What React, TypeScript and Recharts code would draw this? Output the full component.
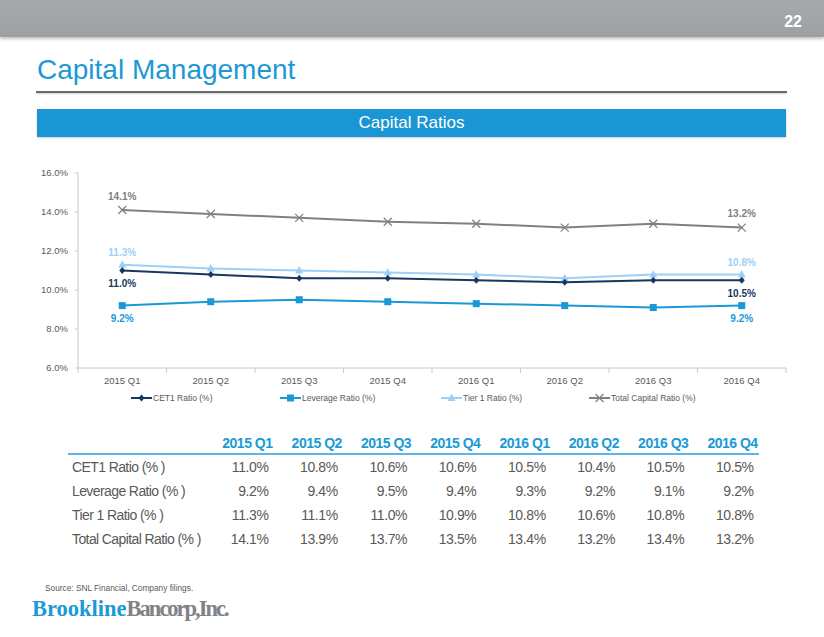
import React from 'react';
import { LineChart, Line, XAxis, YAxis } from 'recharts';

const quarters = ['2015 Q1', '2015 Q2', '2015 Q3', '2015 Q4', '2016 Q1', '2016 Q2', '2016 Q3', '2016 Q4'];
const cet1 = [11.0, 10.8, 10.6, 10.6, 10.5, 10.4, 10.5, 10.5];
const leverage = [9.2, 9.4, 9.5, 9.4, 9.3, 9.2, 9.1, 9.2];
const tier1 = [11.3, 11.1, 11.0, 10.9, 10.8, 10.6, 10.8, 10.8];
const totalCapital = [14.1, 13.9, 13.7, 13.5, 13.4, 13.2, 13.4, 13.2];
const yTicks = [6, 8, 10, 12, 14, 16];

const data = quarters.map((q, i) => ({
    q,
    cet1: cet1[i],
    leverage: leverage[i],
    tier1: tier1[i],
    total: totalCapital[i],
}));

const C_NAVY = '#17375e';
const C_BLUE = '#1b98d6';
const C_LIGHT = '#9dd0f7';
const C_GRAY = '#808080';
const AXIS = '#c8c8c8';
const FONT = '"Liberation Sans", Arial, sans-serif';
const HALF_BAND = 44.25; // plot is 708px wide, 8 categories

const rows = [
    { name: 'CET1 Ratio (% )', values: cet1 },
    { name: 'Leverage Ratio (% )', values: leverage },
    { name: 'Tier 1 Ratio (% )', values: tier1 },
    { name: 'Total Capital Ratio (% )', values: totalCapital },
];

const legendItems = [
    { name: 'CET1 Ratio (%)', color: C_NAVY, shape: 'diamond', left: 131 },
    { name: 'Leverage Ratio (%)', color: C_BLUE, shape: 'square', left: 280 },
    { name: 'Tier 1 Ratio (%)', color: C_LIGHT, shape: 'triangle', left: 441 },
    { name: 'Total Capital Ratio (%)', color: C_GRAY, shape: 'x', left: 589 },
];

const Marker = ({ shape, cx, cy, color }: any) => {
    if (shape === 'diamond') {
        return <polygon points={`${cx},${cy - 3.5} ${cx + 3},${cy} ${cx},${cy + 3.5} ${cx - 3},${cy}`} fill={color} />;
    }
    if (shape === 'square') {
        return <rect x={cx - 3.5} y={cy - 3.5} width={7} height={7} fill={color} />;
    }
    if (shape === 'triangle') {
        return <polygon points={`${cx},${cy - 4.5} ${cx + 4},${cy + 3} ${cx - 4},${cy + 3}`} fill={color} />;
    }
    return (
        <g stroke={color} strokeWidth={1.3}>
            <line x1={cx - 4} y1={cy - 4} x2={cx + 4} y2={cy + 4} />
            <line x1={cx - 4} y1={cy + 4} x2={cx + 4} y2={cy - 4} />
        </g>
    );
};

const makeDot = (shape: string, color: string) => (props: any) => {
    const { cx, cy, index } = props;
    if (cx == null || cy == null) return <g key={index} />;
    return <Marker key={index} shape={shape} cx={cx} cy={cy} color={color} />;
};

// only first and last points carry a value label
const makeLabel = (color: string, dy: number) => (props: any) => {
    const { x, y, index, value } = props;
    if (index !== 0 && index !== quarters.length - 1) return null;
    return (
        <text key={index} x={x} y={y + dy} textAnchor="middle" dominantBaseline="central"
            fontSize={10} fontWeight="bold" fill={color} fontFamily={FONT}>
            {Number(value).toFixed(1)}%
        </text>
    );
};

const XTick = (props: any) => {
    const { x, y, payload, index } = props;
    return (
        <g>
            <line x1={x - HALF_BAND} y1={y} x2={x - HALF_BAND} y2={y + 5} stroke={AXIS} />
            {index === quarters.length - 1 && <line x1={x + HALF_BAND} y1={y} x2={x + HALF_BAND} y2={y + 5} stroke={AXIS} />}
            <text x={x} y={y + 12} textAnchor="middle" dominantBaseline="central" fontSize={9.5} fill="#595959" fontFamily={FONT}>
                {payload.value}
            </text>
        </g>
    );
};

const App: React.FC = () => {
    const colRight = (i: number) => 272.5 + i * 69.3;
    return (
        <div style={{ position: 'absolute', left: 0, top: 0, width: 824, height: 637, background: '#fff', fontFamily: FONT, overflow: 'hidden' }}>
            {/* header bar */}
            <div style={{ position: 'absolute', left: 0, top: 0, width: 824, height: 37, background: 'linear-gradient(#a7aaad, #9da0a3)', boxShadow: '0 2px 3px rgba(0,0,0,0.25)' }} />
            <div style={{ position: 'absolute', right: 22, top: 13, color: '#fff', fontWeight: 'bold', fontSize: 16 }}>22</div>

            <div style={{ position: 'absolute', left: 37, top: 54, color: '#1c98d5', fontSize: 28 }}>Capital Management</div>
            <div style={{ position: 'absolute', left: 36, top: 91, width: 751, height: 1.5, background: '#6b6b6b', boxShadow: '0 1px 2px rgba(0,0,0,0.2)' }} />

            <div style={{ position: 'absolute', left: 37, top: 109, width: 749, height: 28, background: '#1a96d5', color: '#fff', fontSize: 17, textAlign: 'center', lineHeight: '28px', boxShadow: '0 1px 2px rgba(0,0,0,0.2)' }}>
                Capital Ratios
            </div>

            {/* chart */}
            <div style={{ position: 'absolute', left: 0, top: 150 }}>
                <LineChart width={824} height={240} data={data} margin={{ top: 23, right: 38, left: 18, bottom: 0 }}>
                    <XAxis dataKey="q" height={22} stroke={AXIS} tickLine={false} tickSize={0} tickMargin={0}
                        tick={<XTick />} interval={0} padding={{ left: HALF_BAND, right: HALF_BAND }} />
                    <YAxis domain={[6, 16]} ticks={yTicks} width={60} stroke={AXIS} tickSize={3} tickMargin={7}
                        tickFormatter={(v: number) => v.toFixed(1) + '%'}
                        tick={{ fontSize: 9.5, fill: '#595959', fontFamily: FONT }} />
                    <Line dataKey="total" stroke={C_GRAY} strokeWidth={2} isAnimationActive={false}
                        dot={makeDot('x', C_GRAY)} activeDot={false} label={makeLabel(C_GRAY, -14)} />
                    <Line dataKey="tier1" stroke={C_LIGHT} strokeWidth={2} isAnimationActive={false}
                        dot={makeDot('triangle', C_LIGHT)} activeDot={false} label={makeLabel(C_LIGHT, -12)} />
                    <Line dataKey="cet1" stroke={C_NAVY} strokeWidth={2} isAnimationActive={false}
                        dot={makeDot('diamond', C_NAVY)} activeDot={false} label={makeLabel(C_NAVY, 13)} />
                    <Line dataKey="leverage" stroke={C_BLUE} strokeWidth={2} isAnimationActive={false}
                        dot={makeDot('square', C_BLUE)} activeDot={false} label={makeLabel(C_BLUE, 13)} />
                </LineChart>
            </div>

            {/* legend */}
            {legendItems.map((it) => (
                <div key={it.name} style={{ position: 'absolute', left: it.left, top: 392, height: 12, display: 'flex', alignItems: 'center' }}>
                    <svg width={21} height={12}>
                        <line x1={0} y1={6} x2={21} y2={6} stroke={it.color} strokeWidth={2} />
                        <Marker shape={it.shape} cx={10.5} cy={6} color={it.color} />
                    </svg>
                    <span style={{ fontSize: 8.5, color: '#595959', marginLeft: 1 }}>{it.name}</span>
                </div>
            ))}

            {/* table */}
            {quarters.map((q, i) => (
                <div key={q} style={{ position: 'absolute', right: 824 - colRight(i), top: 435, fontSize: 14, fontWeight: 'bold', color: '#1a9ad6', letterSpacing: -0.5, whiteSpace: 'nowrap' }}>{q}</div>
            ))}
            <div style={{ position: 'absolute', left: 68, top: 453, width: 691, height: 2, background: '#5cb6e6' }} />
            {rows.map((r, ri) => (
                <React.Fragment key={r.name}>
                    <div style={{ position: 'absolute', left: 72, top: 459 + ri * 24, fontSize: 14, color: '#595959', letterSpacing: -0.6, whiteSpace: 'nowrap' }}>{r.name}</div>
                    {r.values.map((v, i) => (
                        <div key={i} style={{ position: 'absolute', right: 824 - (colRight(i) - 4), top: 459 + ri * 24, fontSize: 14, color: '#595959', letterSpacing: -0.4, whiteSpace: 'nowrap' }}>{v.toFixed(1)}%</div>
                    ))}
                </React.Fragment>
            ))}

            <div style={{ position: 'absolute', left: 45, top: 583, fontSize: 8.3, color: '#595959' }}>Source: SNL Financial, Company filings.</div>
            <div style={{ position: 'absolute', left: 32, top: 596, fontFamily: '"Liberation Serif", serif', fontWeight: 'bold', fontSize: 22.5, whiteSpace: 'nowrap' }}>
                <span style={{ color: '#1a9ad6' }}>Brookline</span>
                <span style={{ color: '#808285', letterSpacing: -2 }}>Bancorp,Inc.</span>
            </div>
        </div>
    );
};

export default App;
